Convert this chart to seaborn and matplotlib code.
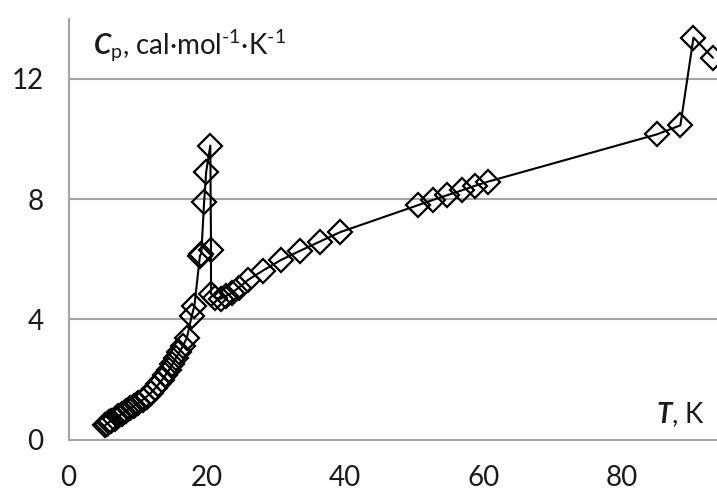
import numpy as np
import pandas as pd
import matplotlib
matplotlib.use('Agg')
import matplotlib.pyplot as plt
import seaborn as sns
from matplotlib.ticker import MultipleLocator

# 数据：热容 Cp 随温度 T 变化
temperature = [5.3, 5.5, 5.8, 6.2, 6.7, 7.2, 7.7, 8.3, 8.9, 9.5, 10.1, 10.7,
               11.3, 11.9, 12.5, 13.0, 13.5, 14.0, 14.5, 15.0, 15.5, 16.0,
               16.5, 17.1, 17.8, 18.2, 19.0, 19.2, 19.6, 19.9, 20.5, 20.6,
               20.6, 21.2, 22.0, 22.8, 23.6, 24.6, 25.9, 28.1, 30.7, 33.5,
               36.3, 39.3, 50.6, 52.7, 54.8, 56.9, 58.8, 60.7, 85.1, 88.5,
               90.4, 93.2]
heat_capacity = [0.48, 0.52, 0.57, 0.63, 0.70, 0.78, 0.85, 0.95, 1.04, 1.13,
                 1.22, 1.32, 1.43, 1.55, 1.70, 1.84, 1.98, 2.14, 2.31, 2.50,
                 2.70, 2.90, 3.10, 3.38, 4.10, 4.45, 6.12, 6.18, 7.90, 8.90,
                 9.78, 6.32, 4.85, 4.72, 4.68, 4.78, 4.88, 5.05, 5.30, 5.62,
                 5.97, 6.28, 6.58, 6.90, 7.80, 7.97, 8.13, 8.29, 8.44, 8.58,
                 10.15, 10.45, 13.37, 12.70]

y_ticks = [0, 4, 8, 12]
x_ticks = [0, 20, 40, 60, 80]

sns.set_style('white')
plt.rcParams['font.family'] = ['Lato', 'DejaVu Sans']
plt.rcParams['mathtext.fontset'] = 'custom'
plt.rcParams['mathtext.rm'] = 'Lato'
plt.rcParams['mathtext.it'] = 'Lato:italic'
plt.rcParams['mathtext.bf'] = 'Lato:bold'
plt.rcParams['mathtext.bfit'] = 'Lato:bold:italic'

df = pd.DataFrame({'T': temperature, 'Cp': heat_capacity})

fig = plt.figure(figsize=(7.17, 4.90), dpi=100)
ax = fig.add_axes([0.0957, 0.1029, 1 - 0.0957, 0.962 - 0.1029])

grid_color = '#a3a3a3'
for y in y_ticks[1:]:
    ax.axhline(y, color=grid_color, lw=1.5, zorder=0)

sns.lineplot(data=df, x='T', y='Cp', ax=ax, sort=False, estimator=None,
             color='black', lw=1.5, marker='D', markersize=12,
             markerfacecolor='none', markeredgecolor='black', markeredgewidth=1.6,
             clip_on=False, zorder=3)

ax.set_xlim(0, 93.8)
ax.set_ylim(0, 14)
ax.set_xticks(x_ticks)
ax.set_yticks(y_ticks)
ax.xaxis.set_minor_locator(MultipleLocator(10))
ax.yaxis.set_minor_locator(MultipleLocator(2))
ax.tick_params(which='both', direction='out', length=7, width=1.3,
               color=grid_color, labelsize=20, colors=grid_color)
ax.tick_params(which='both', labelcolor='#1a1a1a')
ax.tick_params(axis='y', pad=11)
ax.tick_params(axis='x', pad=11)

for side in ['top', 'right']:
    ax.spines[side].set_visible(False)
for side in ['left', 'bottom']:
    ax.spines[side].set_color(grid_color)
    ax.spines[side].set_linewidth(1.5)

ax.set_xlabel('')
ax.set_ylabel('')

ax.text(0.037, 0.915, r'$\mathbfit{C}_{\mathrm{p}}$, cal·mol$^{\text{-1}}$·K$^{\text{-1}}$',
        transform=ax.transAxes, fontsize=20, color='#1a1a1a', va='baseline')
ax.text(0.982, 0.04, r'$\mathbfit{T}$, K', transform=ax.transAxes,
        fontsize=20, color='#1a1a1a', ha='right', va='baseline')

plt.savefig('out.png', dpi=100)
